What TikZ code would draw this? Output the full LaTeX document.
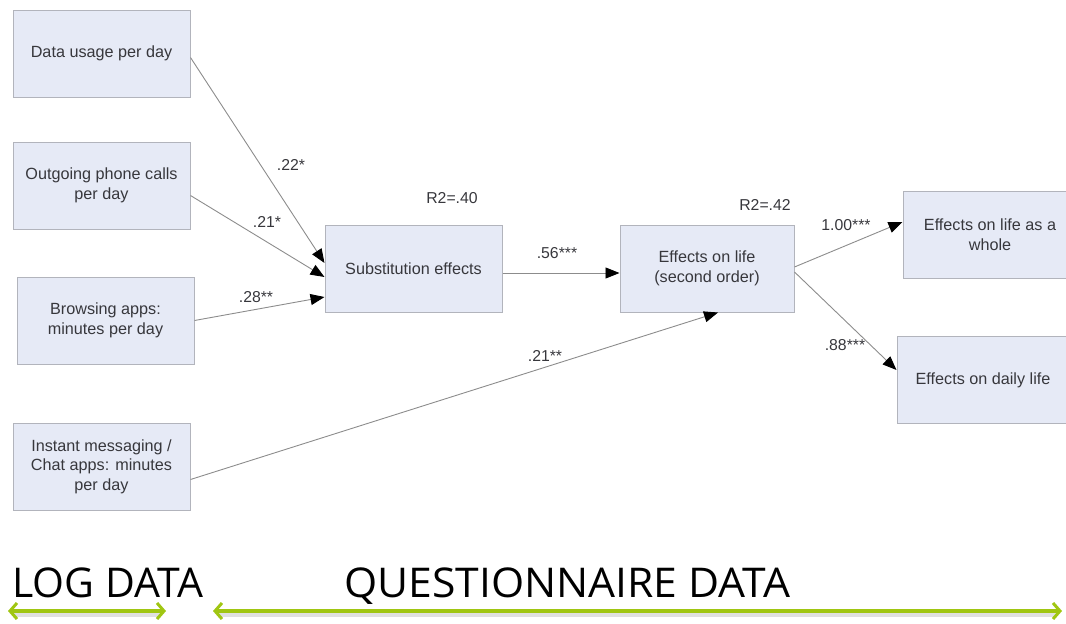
\documentclass[tikz,border=0pt]{standalone}
\usepackage{fontspec}
\setmainfont{Liberation Sans}
\newfontfamily\headfont{Open Sans}
\usetikzlibrary{arrows.meta,calc}
\definecolor{boxfill}{RGB}{230,234,246}
\definecolor{boxline}{RGB}{178,180,188}
\definecolor{boxtext}{RGB}{55,55,60}
\definecolor{linkgray}{RGB}{140,140,140}
\definecolor{limegreen}{RGB}{160,198,18}
\tikzset{
  varbox/.style={draw=boxline, line width=1pt, fill=boxfill, text=boxtext,
    minimum width=#1, minimum height=87pt, inner sep=0pt, align=center,
    font=\fontsize{16.2}{19.5}\selectfont},
  varbox/.default=177pt,
  link/.style={draw=linkgray, line width=0.9pt,
    -{Triangle[length=14pt,width=11pt,color=black]}},
  coef/.style={text=boxtext, font=\fontsize{15.8}{17}\selectfont, inner sep=0pt},
  spanarrow/.style={draw=limegreen, line width=3.5pt,
    {Straight Barb[length=7pt,width=16pt,line width=3pt]}-{Straight Barb[length=7pt,width=16pt,line width=3pt]}},
  spanshadow/.style={draw=black!12, line width=4pt},
  headline/.style={font=\headfont\fontsize{41}{45}\selectfont, text=black, inner sep=0pt, anchor=base west}
}
\begin{document}
\begin{tikzpicture}[x=1pt,y=-1pt]
\useasboundingbox (0,0) rectangle (1066,624);
% input boxes
\node[varbox] (d1) at (101.5,53.5) {Data usage per day};
\node[varbox] (d2) at (101.5,185.5) {Outgoing phone calls\\per day};
\node[varbox] (d3) at (105.5,320.5) {Browsing apps:\\minutes per day};
\node[varbox] (d4) at (101.5,466.5) {Instant messaging /\\Chat apps: minutes\\per day};
% mediators
\node[varbox] (sub) at (413.5,268.5) {Substitution effects};
\node[varbox=174pt] (eff) at (707,268.5) {Effects on life\\(second order)};
% outcomes
\node[varbox=174pt] (whole) at (990,234.5) {Effects on life as a\\whole};
\node[varbox=172pt] (daily) at (983,380) {Effects on daily life};
% connectors
\draw[link] ([yshift=-4pt]d1.east) -- ([yshift=5.5pt]sub.west);
\draw[link] ([yshift=-10pt]d2.east) -- ([yshift=-8.5pt]sub.west);
\draw[link] (d3.east) -- ([yshift=-28.5pt]sub.west);
\draw[link] ([yshift=-4.5pt]sub.east) -- ([yshift=-4.5pt]eff.west);
\draw[link] ([yshift=-13pt]d4.east) -- ([xshift=11pt]eff.south);
\draw[link] ([yshift=1.5pt]eff.east) -- ([yshift=12.5pt]whole.west);
\draw[link] ([yshift=-3.5pt]eff.east) -- ([yshift=10pt]daily.west);
% coefficient labels
\node[coef] (l1) at (291,165) {.22*};
\node[coef] (l2) at (267,222) {.21*};
\node[coef] (l3) at (256,297) {.28**};
\node[coef] (r1) at (452,198) {R2=.40};
\node[coef] (r2) at (765,205) {R2=.42};
\node[coef] (l4) at (557,253) {.56***};
\node[coef] (l5) at (846,225) {1.00***};
\node[coef] (l6) at (845,345) {.88***};
\node[coef] (l7) at (545,356) {.21**};
% bottom headings
\node[headline] (log) at (12,597) {LOG DATA};
\node[headline] (quest) at (344,597) {\scalebox{1.04}[1]{QUESTIONNAIRE DATA}};
\coordinate (la) at (8,611);
\coordinate (lb) at (166,611);
\coordinate (qa) at (213,611);
\coordinate (qb) at (1062,611);
\draw[spanshadow] ([yshift=-4pt,xshift=6pt]la) -- ([yshift=-4pt,xshift=-6pt]lb);
\draw[spanshadow] ([yshift=-4pt,xshift=6pt]qa) -- ([yshift=-4pt,xshift=-6pt]qb);
\draw[spanarrow] (la) -- (lb);
\draw[spanarrow] (qa) -- (qb);
\end{tikzpicture}
\end{document}
